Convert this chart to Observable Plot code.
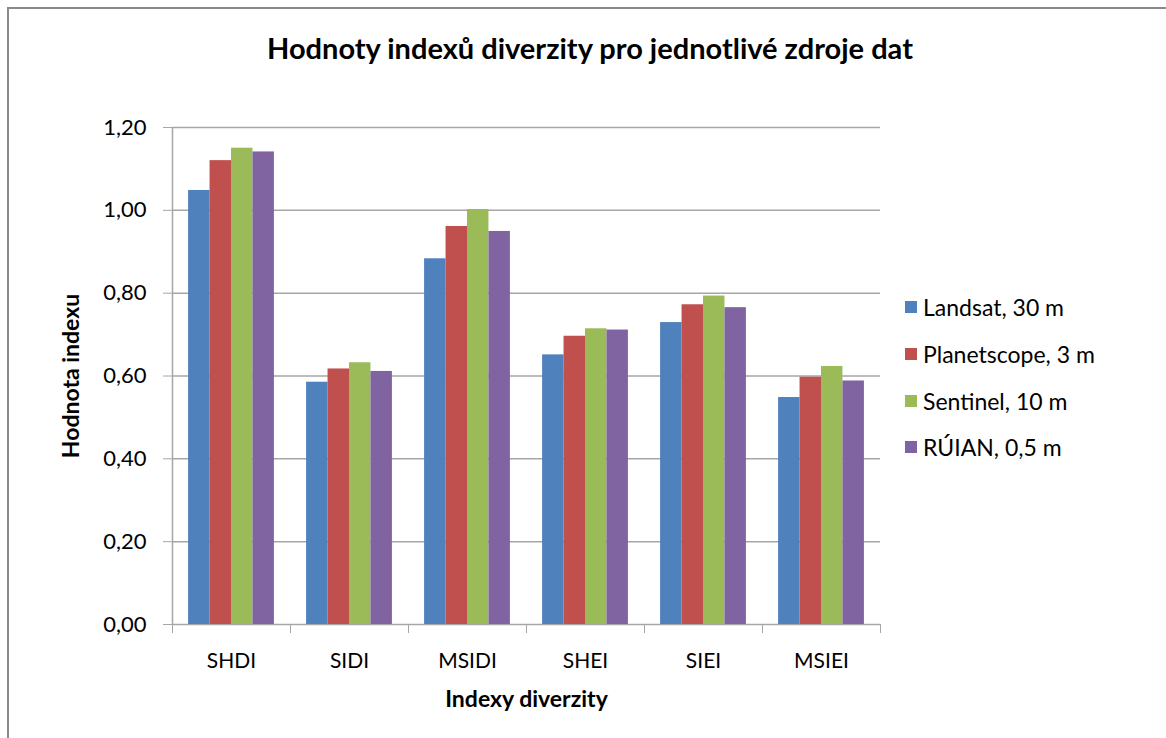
<!DOCTYPE html>
<html>
<head>
<meta charset="utf-8">
<script src="https://cdn.jsdelivr.net/npm/d3@7"></script>
<script src="https://cdn.jsdelivr.net/npm/@observablehq/plot@0.6"></script>
<style>
  body { margin: 0; background: #fff; }
  #wrap { position: relative; width: 1166px; height: 738px; overflow: hidden; background: #fff; font-family: Lato, "Open Sans", sans-serif; }
  #border { position: absolute; left: 7px; top: 7px; width: 1300px; height: 900px; border: 2px solid #8a8a8a; box-sizing: border-box; }
  #title { position: relative; height: 92px; line-height: 96px; text-align: center; font-weight: bold; font-size: 29px; color: #000; padding-left: 14px; }
  #legend { position: absolute; left: 905px; top: 284px; font-size: 23px; color: #000; }
  #legend .item { height: 46.7px; display: flex; align-items: center; }
  #legend .sw { width: 12px; height: 12px; margin-right: 6px; }
  #chart svg { display: block; }
  #chart g[aria-label$="axis label"] { font-weight: bold; font-size: 23px; }
</style>
</head>
<body>
<div id="wrap">
  <div id="border"></div>
  <div id="title">Hodnoty indexů diverzity pro jednotlivé zdroje dat</div>
  <div id="chart"></div>
  <div id="legend"></div>
</div>
<script>
// Diversity index categories and data sources
const categories = ["SHDI", "SIDI", "MSIDI", "SHEI", "SIEI", "MSIEI"];
const sources = ["Landsat, 30 m", "Planetscope, 3 m", "Sentinel, 10 m", "RÚIAN, 0,5 m"];
const colors = ["#4F81BD", "#C0504D", "#9BBB59", "#8064A2"];

// Index values per source, in category order
const landsat     = [1.048, 0.585, 0.883, 0.651, 0.729, 0.548];
const planetscope = [1.120, 0.617, 0.961, 0.696, 0.772, 0.597];
const sentinel    = [1.150, 0.632, 1.002, 0.714, 0.793, 0.623];
const ruian       = [1.141, 0.611, 0.949, 0.711, 0.765, 0.588];

const yTicks = [0, 0.2, 0.4, 0.6, 0.8, 1.0, 1.2];

const series = [landsat, planetscope, sentinel, ruian];
const rows = [];
categories.forEach((c, i) => {
  series.forEach((vals, j) => rows.push({index: c, source: sources[j], slot: j, value: vals[i]}));
});

// slot domain: four bars per category with a 150% gap split on both sides
const slotDomain = [-0.75, sources.length + 0.75];
const axisRows = [{index: categories[0], edge: slotDomain[0]}];
const fmt = d => d.toFixed(2).replace(".", ",");
const gray = "#a6a6a6";

const chart = Plot.plot({
  width: 1166,
  height: 646,
  marginTop: 35,
  marginLeft: 171,
  marginRight: 286,
  marginBottom: 114,
  style: {fontFamily: "Lato, 'Open Sans', sans-serif", fontSize: "21px", color: "#000", background: "transparent", overflow: "visible"},
  fx: {domain: categories, paddingInner: 0, paddingOuter: 0},
  x: {domain: slotDomain},
  y: {domain: [0, 1.2]},
  color: {domain: sources, range: colors},
  marks: [
    Plot.ruleY(yTicks, {stroke: gray, strokeWidth: 1.5}),
    Plot.rectY(rows, {fx: "index", x1: "slot", x2: d => d.slot + 1, y1: 0, y2: "value", fill: "source"}),
    Plot.ruleX(axisRows, {fx: "index", x: "edge", y1: 0, y2: 1.2, stroke: gray, strokeWidth: 1.5}),
    Plot.axisY({ticks: yTicks, tickSize: 9, tickPadding: 17, tickFormat: fmt, stroke: gray, fontSize: 22,
      label: "Hodnota indexu", labelAnchor: "center", labelArrow: "none", labelOffset: 110}),
    Plot.axisX({ticks: slotDomain, tickSize: 9, tickFormat: () => "", stroke: gray, label: null}),
    Plot.axisFx({anchor: "bottom", tickSize: 0, tickPadding: 29, fontSize: 21,
      label: "Indexy diverzity", labelAnchor: "center", labelOffset: 82})
  ]
});
document.getElementById("chart").appendChild(chart);

// Legend
const legend = document.getElementById("legend");
sources.forEach((s, i) => {
  const item = document.createElement("div");
  item.className = "item";
  const sw = document.createElement("div");
  sw.className = "sw";
  sw.style.background = colors[i];
  const t = document.createElement("span");
  t.textContent = s;
  item.appendChild(sw);
  item.appendChild(t);
  legend.appendChild(item);
});
</script>
</body>
</html>
